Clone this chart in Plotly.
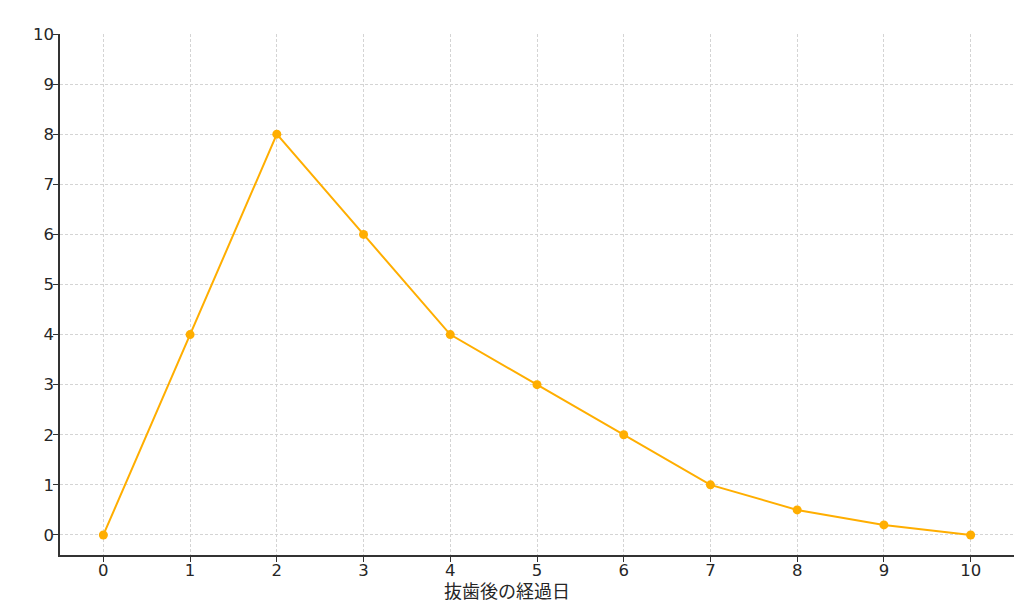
import plotly.graph_objects as go

# 抜歯後の経過日と値
days = [0, 1, 2, 3, 4, 5, 6, 7, 8, 9, 10]
values = [0, 4, 8, 6, 4, 3, 2, 1, 0.5, 0.2, 0]

fig = go.Figure()
fig.add_trace(go.Scatter(
    x=days, y=values, mode='lines+markers',
    line=dict(color='#FFAE00', width=2),
    marker=dict(color='#FFAE00', size=9),
    showlegend=False,
))

axis_common = dict(
    showline=True, linecolor='#333333', linewidth=1.5,
    ticks='outside', ticklen=5, tickcolor='#333333', tickwidth=1,
    showgrid=True, gridcolor='#d4d4d4', griddash='3px,2px', gridwidth=1,
    zeroline=False, tickfont=dict(size=16.5, color='#262626'),
    automargin=False,
)

fig.update_xaxes(range=[-0.5, 10.5], tickmode='array', tickvals=days,
                 ticklabelstandoff=-6, **axis_common)
fig.update_yaxes(range=[-0.4, 10], tickmode='array', tickvals=list(range(11)),
                 ticklabelstandoff=-4, **axis_common)

# x軸ラベル（参照図に合わせて少し左寄り）
fig.add_annotation(text='抜歯後の経過日', xref='paper', yref='paper',
                   x=0.4686, y=0, yshift=-36, xanchor='center', yanchor='middle',
                   showarrow=False, font=dict(size=18, color='#262626'))

fig.update_layout(
    width=1024, height=611,
    plot_bgcolor='white', paper_bgcolor='white',
    font=dict(family='DejaVu Sans, Noto Sans CJK JP, sans-serif'),
    margin=dict(l=60, r=10, t=34, b=56),
)

# ページ余白を消す
fig.write_html("out.html", config={'displayModeBar': False},
               post_script="document.body.style.margin='0';")
